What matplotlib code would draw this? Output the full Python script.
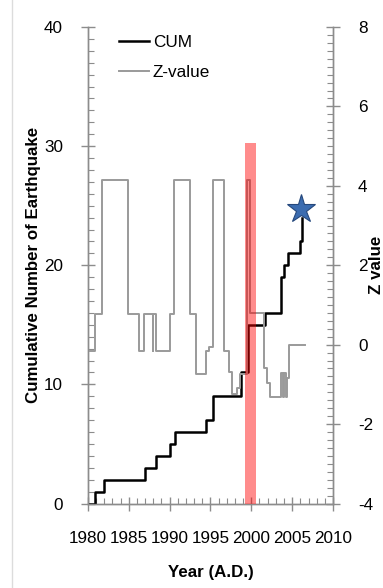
import matplotlib
matplotlib.use("Agg")
import matplotlib.pyplot as plt
from matplotlib.ticker import MultipleLocator
from matplotlib.lines import Line2D

plt.rcParams['font.family'] = ['Liberation Sans', 'DejaVu Sans']
plt.rcParams['axes.unicode_minus'] = False

# Cumulative number of earthquakes: year of each step and count after it
cum_years = [1980.0, 1980.85, 1981.9, 1987.0, 1988.3, 1990.1, 1990.6, 1994.4,
             1995.3, 1998.7, 1999.6, 2001.7, 2003.6, 2004.0, 2004.5, 2005.9,
             2006.15, 2006.25]
cum_counts = [0, 1, 2, 3, 4, 5, 6, 7, 9, 11, 15, 16, 19, 20, 21, 22, 23, 24]

# Z-value time series (step changes)
z_years = [1980.2, 1980.8, 1981.7, 1984.9, 1986.2, 1986.9, 1987.9, 1988.0,
           1988.35, 1990.1, 1990.5, 1992.5, 1993.2, 1994.4, 1994.8, 1995.3,
           1996.6, 1997.3, 1997.6, 1998.2, 1998.6, 1999.5, 1999.8, 2001.6,
           2001.9, 2002.3, 2003.6, 2003.85, 2004.0, 2004.2, 2004.35,
           2004.6, 2006.6]
z_vals = [-0.15, 0.77, 4.15, 0.77, -0.15, 0.77, -0.15, 0.77,
          -0.15, 0.77, 4.15, 0.77, -0.73, -0.15, -0.05, 4.15,
          -0.15, -0.7, -1.23, -1.1, -0.73, 4.15, 0.79, -0.6,
          -0.97, -1.32, -0.72, -1.32, -0.72, -1.32, -0.85,
          0.0, 0.0]

# Highlighted period and latest event
band_years = (1999.2, 2000.55)
band_top_count = 30.3
star_year, star_count = 2006.1, 24.7

x_ticks = [1980, 1985, 1990, 1995, 2000, 2005, 2010]

axis_grey = '#8c8c8c'
tick_fs = 12.3
label_fs = 12.2

fig = plt.figure(figsize=(3.83, 5.88), dpi=100)
ax = fig.add_axes([88 / 383, 1 - 503.5 / 588, 245 / 383, 476.5 / 588])
ax2 = ax.twinx()

ax.step(cum_years, cum_counts, where='post', color='black', lw=1.8, zorder=3)
ax.plot(star_year, star_count, marker='*', ms=21, color='#3b6cb0',
        mec='#25487c', mew=0.8, zorder=5, clip_on=False)

ax2.step(z_years, z_vals, where='post', color='#9a9a9a', lw=1.4, zorder=2)

ax.set_xlim(1980, 2010)
ax.set_ylim(0, 40)
ax2.set_ylim(-4, 8)

ax2.axvspan(band_years[0], band_years[1], ymin=0, ymax=band_top_count / 40,
            color='red', alpha=0.45, lw=0, zorder=4)

ax.set_xticks(x_ticks)
ax.xaxis.set_minor_locator(MultipleLocator(1))
ax.yaxis.set_major_locator(MultipleLocator(10))
ax.yaxis.set_minor_locator(MultipleLocator(1))
ax2.yaxis.set_major_locator(MultipleLocator(2))
ax2.yaxis.set_minor_locator(MultipleLocator(0.2))

for a in (ax, ax2):
    a.spines['top'].set_visible(False)
    for side in ('left', 'right', 'bottom'):
        a.spines[side].set_color(axis_grey)
        a.spines[side].set_linewidth(1.0)

ax.tick_params(axis='both', which='major', direction='inout', length=10,
               width=1, color=axis_grey, labelsize=tick_fs, labelcolor='black')
ax.tick_params(axis='both', which='minor', direction='in', length=4,
               width=0.8, color=axis_grey)
ax.tick_params(axis='x', which='major', pad=14.5)
ax.tick_params(axis='y', which='major', pad=13)
ax2.tick_params(axis='y', which='major', direction='inout', length=10,
                width=1, color=axis_grey, labelsize=tick_fs, labelcolor='black',
                pad=13)
ax2.tick_params(axis='y', which='minor', direction='in', length=4,
                width=0.8, color=axis_grey)

ax.set_xlabel('Year (A.D.)', fontweight='bold', fontsize=label_fs)
ax.xaxis.set_label_coords(0.5, -0.129)
ax.set_ylabel('Cumulative Number of Earthquake', fontweight='bold',
              fontsize=label_fs)
ax.yaxis.set_label_coords(-0.19, 0.5)
ax2.set_ylabel('Z value', fontweight='bold', fontsize=label_fs, rotation=90)
ax2.yaxis.set_label_coords(1.147, 0.5)

handles = [Line2D([], [], color='black', lw=1.8),
           Line2D([], [], color='#9a9a9a', lw=1.4)]
ax2.legend(handles, ['CUM', 'Z-value'], loc='upper left',
           bbox_to_anchor=(0.1265, 0.983), frameon=False, fontsize=tick_fs,
           handlelength=1.75, handletextpad=0.23, labelspacing=0.9,
           borderpad=0, borderaxespad=0)

fig.add_artist(Line2D([12 / 383, 12 / 383], [0, 1], color='#dcdcdc', lw=1))

fig.savefig('out.png', dpi=100)
